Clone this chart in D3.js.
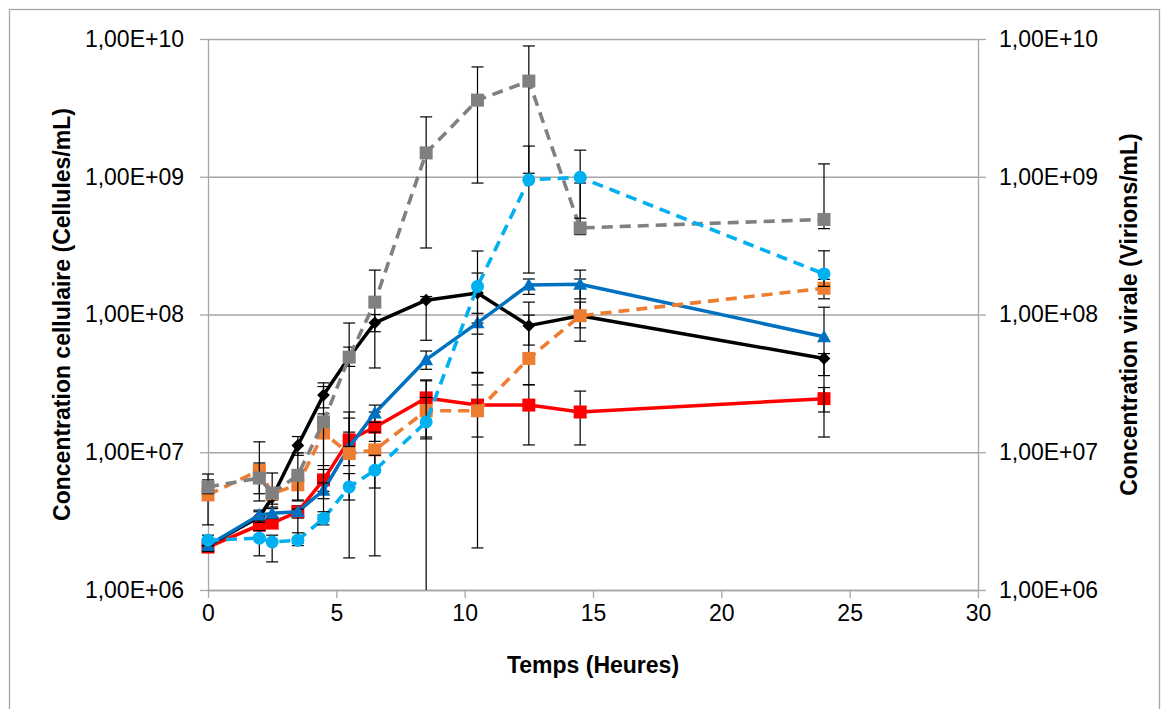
<!DOCTYPE html>
<html>
<head>
<meta charset="utf-8">
<script src="https://cdn.jsdelivr.net/npm/d3@7"></script>
<style>
	body { margin: 0; background: #fff; }
	svg { display: block; font-family: "Liberation Sans", Arial, sans-serif; }
	.axis text { font-size: 23px; fill: #000; }
	.axis path, .axis line { stroke: #a6a6a6; stroke-width: 1.3; }
	.grid line { stroke: #a6a6a6; stroke-width: 1.3; }
	.grid path { display: none; }
	.title { font-size: 23px; font-weight: bold; fill: #000; }
</style>
</head>
<body>
<div id="chart"></div>
<script>
// time points (hours)
var times = [0, 2, 2.5, 3.5, 4.5, 5.5, 6.5, 8.5, 10.5, 12.5, 14.5, 24];

// black, diamonds (cells)
var blackVals = [2.1e6, 3.4e6, 4.7e6, 1.12e7, 2.6e7, 4.9e7, 8.7e7, 1.27e8, 1.43e8, 8.3e7, 9.8e7, 4.8e7];
var blackLo   = [1.9e6, 3.1e6, 4.2e6, 9.5e6, 2.1e7, 4.2e7, 7.5e7, 6.5e7, 8.67e7, 6.0e7, 6.4e7, 1.29e7];
var blackHi   = [2.3e6, 3.7e6, 5.0e6, 1.3e7, 3.19e7, 5.8e7, 1.0e8, 1.35e8, 2.0e8, 1.23e8, 1.81e8, 5.2e7];

// red, squares (cells)
var redVals = [2.05e6, 2.96e6, 3.06e6, 3.7e6, 6.3e6, 1.23e7, 1.52e7, 2.48e7, 2.2e7, 2.2e7, 1.96e7, 2.45e7];
var redLo   = [1.9e6, 2.7e6, 2.8e6, 3.33e6, 5.2e6, 9.0e6, 1.2e7, 1.25e7, 1.29e7, 1.13e7, 1.13e7, 1.96e7];
var redHi   = [2.2e6, 3.2e6, 3.3e6, 4.1e6, 7.5e6, 1.77e7, 1.96e7, 3.3e7, 3.08e7, 3.08e7, 2.78e7, 2.95e7];

// blue, triangles (cells)
var blueVals = [2.1e6, 3.5e6, 3.6e6, 3.7e6, 5.3e6, 1.09e7, 1.93e7, 4.7e7, 8.7e7, 1.64e8, 1.66e8, 6.9e7];
var blueLo   = [1.95e6, 3.2e6, 3.3e6, 2.19e6, 4.6e6, 8.0e6, 1.65e7, 4.0e7, 7.2e7, 1.4e8, 1.3e8, 3.6e7];
var blueHi   = [2.25e6, 3.8e6, 3.9e6, 3.87e6, 6.0e6, 1.96e7, 2.2e7, 5.43e7, 1.02e8, 1.81e8, 2.1e8, 1.13e8];

// orange, dashed squares (virions)
var orangeVals = [4.9e6, 7.4e6, 5.0e6, 5.8e6, 1.38e7, 9.8e6, 1.04e7, 2.0e7, 2.0e7, 4.8e7, 9.8e7, 1.55e8];
var orangeLo   = [2.97e6, 4.43e6, 4.5e6, 4.5e6, 8.0e6, 1.71e6, 1.77e6, 1.29e7, 2.02e6, 3.1e7, 8.0e7, 1.3e8];
var orangeHi   = [6.95e6, 1.19e7, 5.5e6, 7.0e6, 1.9e7, 1.4e7, 1.4e7, 2.5e7, 3.76e7, 9.9e7, 1.23e8, 1.8e8];

// grey, dashed squares (virions)
var greyVals = [5.6e6, 6.5e6, 5.06e6, 6.8e6, 1.66e7, 4.9e7, 1.23e8, 1.49e9, 3.6e9, 4.95e9, 4.25e8, 4.9e8];
var greyLo   = [5.0e6, 5.0e6, 4.0e6, 4.43e6, 3.5e6, 1.1e7, 4.09e7, 3.04e8, 9.0e8, 1.06e9, 3.8e8, 4.2e8];
var greyHi   = [6.3e6, 8.36e6, 7.07e6, 9.9e6, 3.0e7, 8.67e7, 2.1e8, 2.72e9, 6.27e9, 8.9e9, 9.0e8, 1.24e9];

// light blue, dashed circles (virions)
var cyanVals = [2.3e6, 2.38e6, 2.23e6, 2.3e6, 3.3e6, 5.6e6, 7.4e6, 1.66e7, 1.6e8, 9.5e8, 9.9e8, 1.97e8];
var cyanLo   = [2.1e6, 1.77e6, 1.6e6, 2.1e6, 2.97e6, 4.5e6, 5.5e6, 0, 3.8e7, 2.0e8, 5.0e8, 1.6e8];
var cyanHi   = [2.5e6, 2.7e6, 2.5e6, 2.6e6, 3.7e6, 7.0e6, 9.5e6, 3.35e7, 2.89e8, 1.67e9, 1.56e9, 2.9e8];

var xTicks = [0, 5, 10, 15, 20, 25, 30];
var yTicks = [1e6, 1e7, 1e8, 1e9, 1e10];

var series = [
	{ vals: redVals, lo: redLo, hi: redHi, color: "#ff0000", dash: null, shape: "square", size: 13 },
	{ vals: blackVals, lo: blackLo, hi: blackHi, color: "#000000", dash: null, shape: "diamond", size: 9 },
	{ vals: blueVals, lo: blueLo, hi: blueHi, color: "#0070c0", dash: null, shape: "triangle", size: 14 },
	{ vals: orangeVals, lo: orangeLo, hi: orangeHi, color: "#ed7d31", dash: "11,7", shape: "square", size: 13 },
	{ vals: greyVals, lo: greyLo, hi: greyHi, color: "#808080", dash: "11,7", shape: "square", size: 13 },
	{ vals: cyanVals, lo: cyanLo, hi: cyanHi, color: "#00b0f0", dash: "11,7", shape: "circle", size: 13 }
];

var W = 1169, H = 709;
var margin = { top: 39, right: 191, bot: 119, left: 208 };
var w = W - margin.left - margin.right;
var h = H - margin.top - margin.bot;

var xSc = d3.scaleLinear().domain([0, 30]).range([0, w]);
var ySc = d3.scaleLog().domain([1e6, 1e10]).range([h, 0]);

function fmtE(d) {
	var e = Math.round(Math.log10(d));
	return "1,00E+" + (e < 10 ? "0" + e : e);
}

var svg = d3.select("#chart").append("svg").attr("width", W).attr("height", H);

// chart border
svg.append("rect").attr("x", 9.5).attr("y", 9.5).attr("width", 1150).attr("height", 740)
	.attr("fill", "none").attr("stroke", "#a6a6a6").attr("stroke-width", 1.3);

var g = svg.append("g").attr("transform", "translate(" + margin.left + "," + margin.top + ")");

// horizontal gridlines
g.append("g").attr("class", "grid")
	.call(d3.axisLeft(ySc).tickValues(yTicks).tickSize(-w).tickFormat(""));

// axes
g.append("g").attr("class", "y axis")
	.call(d3.axisLeft(ySc).tickValues(yTicks).tickSize(8).tickSizeOuter(0).tickPadding(16).tickFormat(fmtE));
g.append("g").attr("class", "y2 axis").attr("transform", "translate(" + w + ",0)")
	.call(d3.axisRight(ySc).tickValues(yTicks).tickSize(8).tickSizeOuter(0).tickPadding(13).tickFormat(fmtE));
g.append("g").attr("class", "x axis").attr("transform", "translate(0," + h + ")")
	.call(d3.axisBottom(xSc).tickValues(xTicks).tickSize(8).tickSizeOuter(0).tickPadding(7));

// axis titles
svg.append("text").attr("class", "title").attr("text-anchor", "middle")
	.attr("x", margin.left + w / 2).attr("y", 673).text("Temps (Heures)");
svg.append("text").attr("class", "title").attr("text-anchor", "middle")
	.attr("transform", "translate(70," + (margin.top + h / 2) + ") rotate(-90)")
	.text("Concentration cellulaire (Cellules/mL)");
svg.append("text").attr("class", "title").attr("text-anchor", "middle")
	.attr("transform", "translate(1137," + (margin.top + h / 2) + ") rotate(-90)")
	.text("Concentration virale (Virions/mL)");

var line = d3.line()
	.x(function(d) { return xSc(d.t); })
	.y(function(d) { return ySc(d.v); });

function pts(s) {
	return times.map(function(t, i) { return { t: t, v: s.vals[i], lo: s.lo[i], hi: s.hi[i] }; });
}

var plot = g.append("g");

series.forEach(function(s) {
	var data = pts(s);
	var sg = plot.append("g");

	sg.append("path").datum(data).attr("d", line)
		.attr("fill", "none").attr("stroke", s.color)
		.attr("stroke-width", s.dash ? 3.6 : 3.5)
		.attr("stroke-dasharray", s.dash)
		.attr("stroke-linejoin", "round");

	// error bars
	var eb = sg.append("g").attr("stroke", "#000").attr("stroke-width", 1.2);
	data.forEach(function(d) {
		var x = xSc(d.t);
		var yHi = ySc(d.hi);
		var loOff = d.lo <= 1e6;
		var yLo = loOff ? h : ySc(d.lo);
		eb.append("line").attr("x1", x).attr("x2", x).attr("y1", yHi).attr("y2", yLo);
		eb.append("line").attr("x1", x - 6).attr("x2", x + 6).attr("y1", yHi).attr("y2", yHi);
		if (!loOff) eb.append("line").attr("x1", x - 6).attr("x2", x + 6).attr("y1", yLo).attr("y2", yLo);
	});

	// markers
	var mk = sg.append("g").attr("fill", s.color);
	data.forEach(function(d) {
		var x = xSc(d.t), y = ySc(d.v), r = s.size / 2;
		if (s.shape === "square") {
			mk.append("rect").attr("x", x - r).attr("y", y - r).attr("width", s.size).attr("height", s.size);
		} else if (s.shape === "diamond") {
			mk.append("rect").attr("x", -r).attr("y", -r).attr("width", s.size).attr("height", s.size)
				.attr("transform", "translate(" + x + "," + y + ") rotate(45)");
		} else if (s.shape === "triangle") {
			mk.append("path").attr("d", "M" + x + "," + (y - 7) + "L" + (x + 7) + "," + (y + 5.5) + "L" + (x - 7) + "," + (y + 5.5) + "Z");
		} else {
			mk.append("circle").attr("cx", x).attr("cy", y).attr("r", r);
		}
	});
});
</script>
</body>
</html>
